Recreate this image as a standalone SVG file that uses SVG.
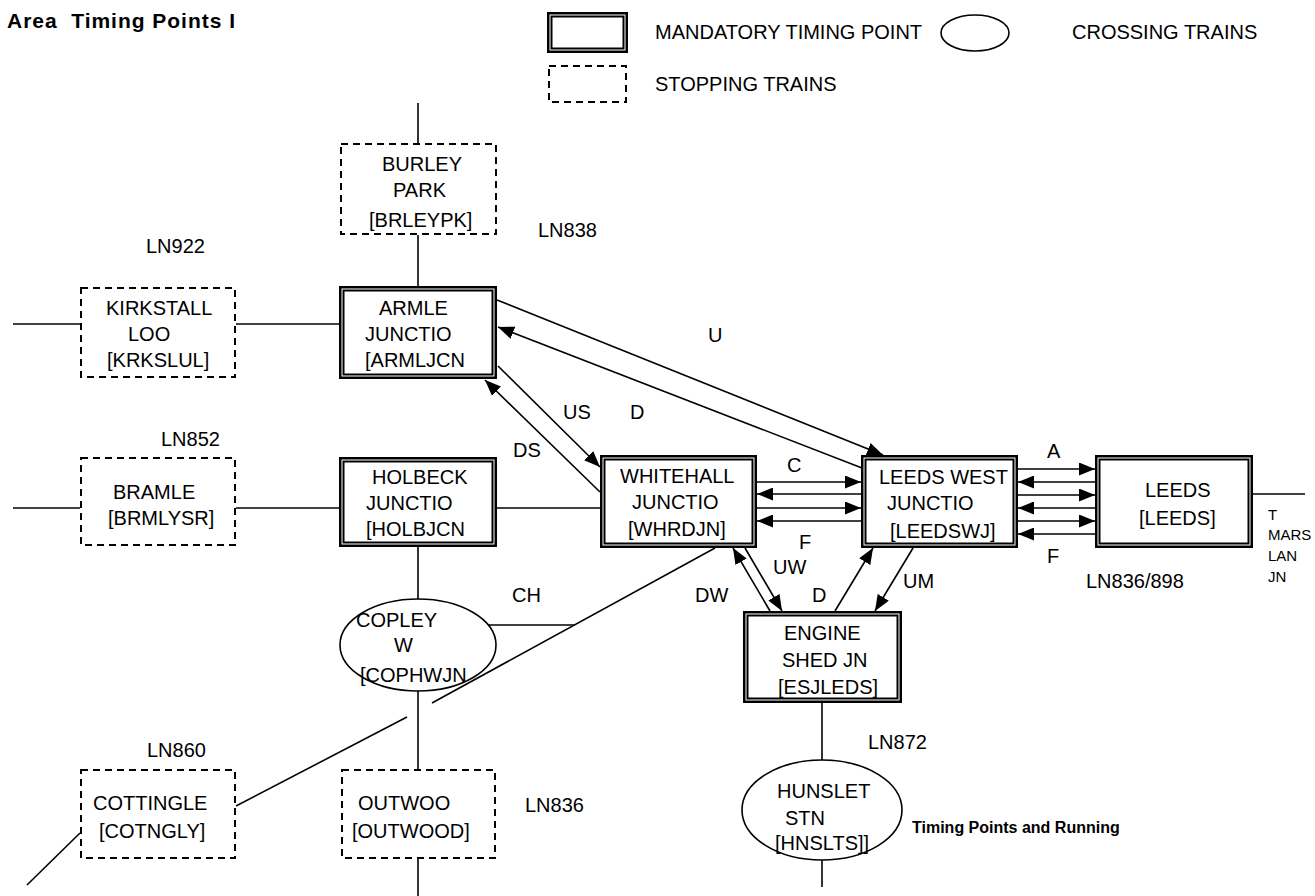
<svg xmlns="http://www.w3.org/2000/svg" width="1315" height="896" viewBox="0 0 1315 896">
<style>
text { font-family: "Liberation Sans", Arial, sans-serif; font-size: 20px; fill: #000; }
.b { font-weight: bold; }
.sm { font-size: 15px; }
.o { fill: #fff; stroke: #000; stroke-width: 2.5; }
.i { fill: none; stroke: #000; stroke-width: 2; }
.d { fill: #fff; stroke: #000; stroke-width: 2; stroke-dasharray: 7 5; }
.e { fill: #fff; stroke: #000; stroke-width: 1.6; }
.l { stroke: #000; stroke-width: 1.6; fill: none; }
.a { stroke: #000; stroke-width: 1.6; fill: none; marker-end: url(#ah); }
</style>
<defs>
<marker id="ah" markerUnits="userSpaceOnUse" markerWidth="16" markerHeight="13" refX="16" refY="6.5" orient="auto">
<path d="M0,0 L16,6.5 L0,13 z" fill="#000"/>
</marker>
</defs>
<rect width="1315" height="896" fill="#fff"/>

<g id="title"><text class="b" x="7" y="28" xml:space="preserve" style="font-size:21px" textLength="228" lengthAdjust="spacing">Area  Timing Points I</text></g>

<g id="legend">
<rect class="o" x="548.25" y="13.25" width="78.5" height="38.5"/>
<rect class="i" x="551.5" y="16.5" width="72" height="32"/>
<text x="655" y="39">MANDATORY TIMING POINT</text>
<ellipse class="e" cx="975" cy="33" rx="34" ry="18"/>
<text x="1072" y="39">CROSSING TRAINS</text>
<rect class="d" x="549" y="66" width="77" height="36"/>
<text x="655" y="91">STOPPING TRAINS</text>
</g>

<g id="connectors">
<line class="l" x1="418" y1="103" x2="418" y2="143"/>
<line class="l" x1="418" y1="235" x2="418" y2="286"/>
<line class="l" x1="13" y1="324" x2="80" y2="324"/>
<line class="l" x1="236" y1="324" x2="339" y2="324"/>
<line class="l" x1="13" y1="508" x2="80" y2="508"/>
<line class="l" x1="236" y1="508" x2="339" y2="508"/>
<line class="l" x1="497" y1="508" x2="600" y2="508"/>
<line class="l" x1="418" y1="547" x2="418" y2="599"/>
<line class="l" x1="418" y1="691" x2="418" y2="769"/>
<line class="l" x1="418" y1="859" x2="418" y2="896"/>
<line class="l" x1="483" y1="625" x2="575" y2="625"/>
<line class="l" x1="432" y1="703" x2="715" y2="548"/>
<line class="l" x1="236" y1="806" x2="407" y2="717"/>
<line class="l" x1="80" y1="833" x2="27" y2="885"/>
<line class="l" x1="822" y1="703" x2="822" y2="760"/>
<line class="l" x1="822" y1="860" x2="822" y2="887"/>
<line class="l" x1="1253" y1="494" x2="1305" y2="494"/>
<line class="a" x1="497" y1="300" x2="883" y2="455"/>
<line class="a" x1="862" y1="468" x2="498" y2="327"/>
<line class="a" x1="498" y1="366" x2="600" y2="467"/>
<line class="a" x1="600" y1="492" x2="485" y2="380"/>
<line class="a" x1="757" y1="482" x2="861" y2="482"/>
<line class="a" x1="861" y1="494" x2="757" y2="494"/>
<line class="a" x1="757" y1="508" x2="861" y2="508"/>
<line class="a" x1="861" y1="521" x2="757" y2="521"/>
<line class="a" x1="1018" y1="469" x2="1095" y2="469"/>
<line class="a" x1="1095" y1="482" x2="1018" y2="482"/>
<line class="a" x1="1018" y1="495" x2="1095" y2="495"/>
<line class="a" x1="1095" y1="508" x2="1018" y2="508"/>
<line class="a" x1="1018" y1="521" x2="1095" y2="521"/>
<line class="a" x1="1095" y1="534" x2="1018" y2="534"/>
<line class="a" x1="770" y1="611" x2="733" y2="548"/>
<line class="a" x1="745" y1="548" x2="782" y2="611"/>
<line class="a" x1="835" y1="611" x2="873" y2="548"/>
<line class="a" x1="913" y1="548" x2="875" y2="611"/>
</g>

<g id="labels">
<text x="708" y="342">U</text>
<text x="630" y="419">D</text>
<text x="563" y="419">US</text>
<text x="513" y="457">DS</text>
<text x="787" y="472">C</text>
<text x="799" y="549">F</text>
<text x="1047" y="458">A</text>
<text x="1047" y="563">F</text>
<text x="773" y="574">UW</text>
<text x="695" y="602">DW</text>
<text x="812" y="602">D</text>
<text x="903" y="588">UM</text>
<text x="512" y="602">CH</text>
<text x="146" y="253">LN922</text>
<text x="538" y="237">LN838</text>
<text x="161" y="446">LN852</text>
<text x="147" y="757">LN860</text>
<text x="525" y="812">LN836</text>
<text x="868" y="749">LN872</text>
<text x="1086" y="588">LN836/898</text>
<text class="sm" x="1268" y="520">T</text>
<text class="sm" x="1268" y="540">MARS</text>
<text class="sm" x="1268" y="561">LAN</text>
<text class="sm" x="1268" y="582">JN</text>
<text class="b" x="912" y="833" style="font-size:16px">Timing Points and Running</text>
</g>

<g id="burley">
<rect class="d" x="341" y="144" width="155" height="90"/>
<text x="382" y="171">BURLEY</text><text x="393" y="197">PARK</text><text x="369" y="227">[BRLEYPK]</text>
</g>
<g id="kirkstall">
<rect class="d" x="81" y="288" width="154" height="89"/>
<text x="106" y="315">KIRKSTALL</text><text x="128" y="341">LOO</text><text x="107" y="367">[KRKSLUL]</text>
</g>
<g id="armley">
<rect class="o" x="340.25" y="287.25" width="155.5" height="90.5"/>
<rect class="i" x="343.5" y="290.5" width="149" height="84"/>
<text x="379" y="315">ARMLE</text><text x="365" y="341">JUNCTIO</text><text x="365" y="367">[ARMLJCN</text>
</g>
<g id="bramley">
<rect class="d" x="81" y="458" width="154" height="87"/>
<text x="113" y="499">BRAMLE</text><text x="108" y="525">[BRMLYSR]</text>
</g>
<g id="holbeck">
<rect class="o" x="340.25" y="458.25" width="155.5" height="87.5"/>
<rect class="i" x="343.5" y="461.5" width="149" height="81"/>
<text x="372" y="484">HOLBECK</text><text x="366" y="510">JUNCTIO</text><text x="366" y="536">[HOLBJCN</text>
</g>
<g id="whitehall">
<rect class="o" x="601.25" y="456.25" width="154.5" height="90.5"/>
<rect class="i" x="604.5" y="459.5" width="148" height="84"/>
<text x="620" y="483">WHITEHALL</text><text x="632" y="509">JUNCTIO</text><text x="628" y="536">[WHRDJN]</text>
</g>
<g id="leedswest">
<rect class="o" x="862.25" y="456.25" width="154.5" height="90.5"/>
<rect class="i" x="865.5" y="459.5" width="148" height="84"/>
<text x="879" y="484">LEEDS WEST</text><text x="887" y="510">JUNCTIO</text><text x="890" y="538">[LEEDSWJ]</text>
</g>
<g id="leeds">
<rect class="o" x="1096.25" y="456.25" width="155.5" height="90.5"/>
<rect class="i" x="1099.5" y="459.5" width="149" height="84"/>
<text x="1145" y="497">LEEDS</text><text x="1139" y="525">[LEEDS]</text>
</g>
<g id="engineshed">
<rect class="o" x="744.25" y="612.25" width="156.5" height="89.5"/>
<rect class="i" x="747.5" y="615.5" width="150" height="83"/>
<text x="784" y="640">ENGINE</text><text x="782" y="667">SHED JN</text><text x="778" y="694">[ESJLEDS]</text>
</g>
<g id="copley">
<ellipse class="e" cx="418" cy="645" rx="78" ry="46"/>
<text x="356" y="627">COPLEY</text><text x="394" y="652">W</text><text x="360" y="682">[COPHWJN</text>
</g>
<g id="cottingley">
<rect class="d" x="81" y="770" width="154" height="88"/>
<text x="93" y="810">COTTINGLE</text><text x="99" y="838">[COTNGLY]</text>
</g>
<g id="outwood">
<rect class="d" x="342" y="770" width="153" height="88"/>
<text x="358" y="810">OUTWOO</text><text x="352" y="838">[OUTWOOD]</text>
</g>
<g id="hunslet">
<ellipse class="e" cx="822" cy="810" rx="80" ry="50"/>
<text x="777" y="798">HUNSLET</text><text x="785" y="825">STN</text><text x="775" y="850">[HNSLTS]]</text>
</g>
</svg>
